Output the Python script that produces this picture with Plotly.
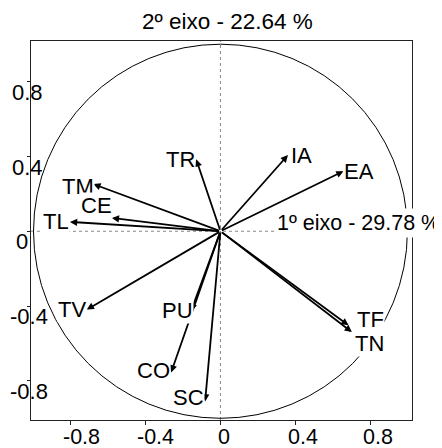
import plotly.graph_objects as go

# ---------------- data ----------------
variables = ["TM", "CE", "TL", "TV", "TR", "IA", "EA", "TF", "TN", "PU", "CO", "SC"]
axis1 = [-0.680, -0.581, -0.805, -0.715, -0.130, 0.361, 0.658, 0.685, 0.703, -0.157, -0.264, -0.082]
axis2 = [0.252, 0.071, 0.050, -0.419, 0.385, 0.407, 0.321, -0.503, -0.539, -0.426, -0.755, -0.910]
tick_values = [-0.8, -0.4, 0, 0.4, 0.8]
tick_labels = ["-0.8", "-0.4", "0", "0.4", "0.8"]
axis1_title = "1º eixo - 29.78 %"
axis2_title = "2º eixo - 22.64 %"

# ---------------- style ----------------
FONT = "Liberation Sans, Arial, sans-serif"
FS = 22
# label offsets (pixels) from arrow tip
label_shift = {
    "TM": (-15, -2), "CE": (-15, 12), "TL": (-13.5, 0), "TV": (-15, 0),
    "TR": (-15.5, 0), "IA": (13.5, 0), "EA": (16, 0), "TF": (21.5, 6),
    "TN": (18, -11.5), "PU": (-13.5, 0), "CO": (-18, 1.5), "SC": (-17, 4),
}

def text_width(s, size):
    w = {"-": 0.333, ".": 0.278}
    return sum(w.get(c, 0.556) for c in s) * size

XR = [-1.0134, 1.0246]
YR = [-1.0091, 1.0171]
W, H = 442, 448
PAGE_OFF = 8            # page body margin of the viewer
L, T = 31 - PAGE_OFF, 41 - PAGE_OFF
PW, PH = 381, 379
R, B = W - L - PW, H - T - PH

fig = go.Figure()
fig.add_trace(go.Scatter(x=axis1, y=axis2, mode="markers",
                         marker=dict(size=1, opacity=0), hoverinfo="text",
                         text=variables, showlegend=False))

shapes = [
    dict(type="line", xref="x", yref="paper", x0=0, x1=0, y0=0, y1=1,
         line=dict(color="#888", width=1, dash="dot"), layer="below"),
    dict(type="line", xref="paper", yref="y", x0=0, x1=1, y0=0, y1=0,
         line=dict(color="#888", width=1, dash="dot"), layer="below"),
    dict(type="circle", xref="x", yref="y", x0=-1, y0=-1, x1=1, y1=1,
         line=dict(color="black", width=1)),
]

ann = []
# arrows
for v, x, y in zip(variables, axis1, axis2):
    ann.append(dict(x=x, y=y, ax=0, ay=0, xref="x", yref="y", axref="x", ayref="y",
                    text="", showarrow=True, arrowhead=2, arrowsize=0.8,
                    arrowwidth=1.8, arrowcolor="black", standoff=0))
# variable labels
for v, x, y in zip(variables, axis1, axis2):
    dx, dy = label_shift[v]
    ann.append(dict(x=x, y=y, xref="x", yref="y", text=v, showarrow=False,
                    xshift=dx, yshift=dy, xanchor="center", yanchor="middle",
                    bgcolor="white", borderpad=0,
                    font=dict(family=FONT, size=FS, color="black")))
# x tick labels
for tv, tl in zip(tick_values, tick_labels):
    ann.append(dict(x=tv, y=0, xref="x", yref="paper", text=tl, showarrow=False,
                    xanchor="center", yanchor="middle", height=19,
                    xshift=0.27 * text_width(tl, FS), yshift=-16,
                    font=dict(family=FONT, size=21.5, color="black")))
# y tick labels
for tv, tl in zip(tick_values, tick_labels):
    ann.append(dict(x=0, y=tv, xref="paper", yref="y", text=tl, showarrow=False,
                    xanchor="center", yanchor="middle", height=19,
                    xshift=(18.6 - 31) + 0.28 * text_width(tl, FS), yshift=-10.7,
                    font=dict(family=FONT, size=FS, color="black")))
# axis titles
ann.append(dict(x=0.285, y=0.043, xref="x", yref="y", text=axis1_title,
                showarrow=False, xanchor="left", yanchor="middle",
                bgcolor="white", borderpad=2,
                font=dict(family=FONT, size=21.5, color="black")))
ann.append(dict(x=(227.5 - 31) / PW, y=1, xref="paper", yref="paper",
                text=axis2_title, showarrow=False, xanchor="center",
                yanchor="middle", yshift=19.7,
                font=dict(family=FONT, size=22.5, color="black")))

fig.update_layout(
    width=W, height=H,
    margin=dict(l=L, r=R, t=T, b=B, autoexpand=False),
    paper_bgcolor="white", plot_bgcolor="white",
    shapes=shapes, annotations=ann, showlegend=False,
    xaxis=dict(range=XR, showgrid=False, zeroline=False, showline=True,
               mirror=True, linecolor="#222", linewidth=1,
               tickvals=tick_values, ticks="outside", ticklen=4,
               tickcolor="#222", showticklabels=False, fixedrange=True),
    yaxis=dict(range=YR, showgrid=False, zeroline=False, showline=True,
               mirror=True, linecolor="#222", linewidth=1,
               tickvals=tick_values, ticks="outside", ticklen=3,
               tickcolor="#222", showticklabels=False, fixedrange=True),
)

fig.write_html("out.html")
